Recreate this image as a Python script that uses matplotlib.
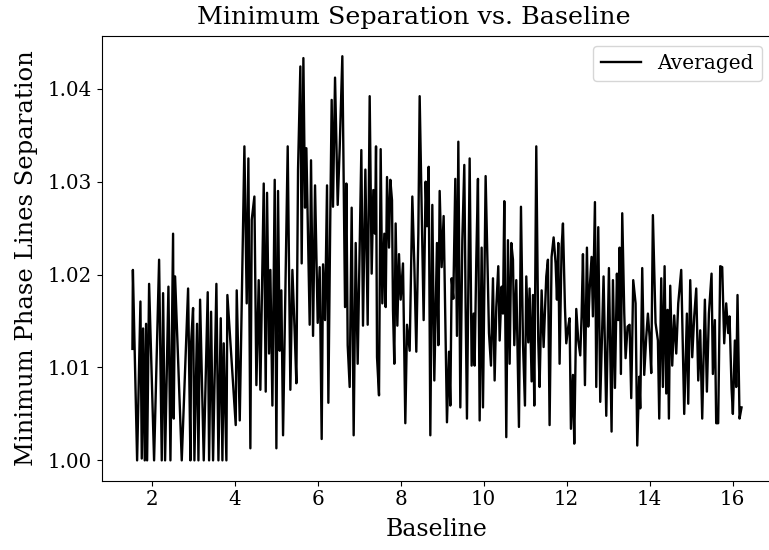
import matplotlib
matplotlib.use("Agg")
import matplotlib.pyplot as plt

plt.rcParams['font.family'] = 'DejaVu Serif'

# baseline values (x)
baseline = [
    1.534, 1.545, 1.647, 1.727, 1.759, 1.791, 1.831, 1.863, 1.888, 1.936,
    2.056, 2.177, 2.241, 2.273, 2.321, 2.402, 2.450, 2.514, 2.530, 2.562,
    2.723, 2.876, 2.932, 2.948, 2.996, 3.028, 3.092, 3.125, 3.165, 3.253,
    3.349, 3.382, 3.430, 3.478, 3.558, 3.607, 3.663, 3.703, 3.735, 3.799,
    3.823, 4.024, 4.048, 4.121, 4.233, 4.289, 4.329, 4.377,
    4.410, 4.474, 4.522, 4.578, 4.618, 4.699, 4.747, 4.779, 4.827, 4.859,
    4.908, 4.964, 5.004, 5.044, 5.084, 5.124, 5.165, 5.277, 5.341, 5.390,
    5.446, 5.486, 5.526, 5.582, 5.614, 5.655, 5.695, 5.727, 5.759, 5.807,
    5.839, 5.888, 5.936, 6.000, 6.048, 6.096, 6.129, 6.177, 6.225, 6.257,
    6.305, 6.337, 6.369, 6.418, 6.482, 6.530, 6.594, 6.659, 6.691, 6.723,
    6.771, 6.819, 6.867, 6.916, 6.964,
    7.052, 7.092, 7.149, 7.205, 7.253, 7.301, 7.341, 7.381, 7.406, 7.430,
    7.478, 7.518, 7.558, 7.606, 7.639, 7.671, 7.719, 7.751, 7.791, 7.815,
    7.847, 7.879, 7.920, 7.960, 8.000, 8.056, 8.112, 8.153, 8.217, 8.281,
    8.329, 8.377, 8.426, 8.458, 8.514, 8.554, 8.602, 8.634, 8.675, 8.715,
    8.763, 8.811, 8.875, 8.908, 8.940, 8.988, 9.036, 9.116, 9.165, 9.197,
    9.229, 9.269, 9.317, 9.357, 9.390, 9.438, 9.486, 9.534, 9.566, 9.598,
    9.663, 9.711, 9.759, 9.783, 9.823, 9.863, 9.904,
    9.952, 9.984, 10.048, 10.129, 10.177, 10.225, 10.265, 10.305, 10.353, 10.386,
    10.434, 10.466, 10.498, 10.546, 10.586, 10.627, 10.667, 10.707, 10.739, 10.787,
    10.851, 10.900, 10.948, 10.996, 11.028, 11.076, 11.108, 11.157, 11.189, 11.221,
    11.269, 11.317, 11.349, 11.398, 11.446, 11.510, 11.550, 11.590, 11.638, 11.687,
    11.735, 11.767, 11.799, 11.831, 11.879, 11.912, 11.960, 11.992, 12.040, 12.072,
    12.104, 12.153, 12.185, 12.233, 12.281, 12.329, 12.361, 12.394, 12.442, 12.490,
    12.522, 12.554, 12.602, 12.634, 12.683, 12.715, 12.763, 12.811, 12.891, 12.956,
    13.020,
    13.084, 13.117, 13.165, 13.213, 13.245, 13.277, 13.309, 13.341, 13.390, 13.422,
    13.470, 13.518, 13.558, 13.606, 13.663, 13.703, 13.751, 13.775, 13.823, 13.871,
    13.920, 13.960, 14.000, 14.040, 14.080, 14.144, 14.201, 14.233, 14.281, 14.321,
    14.362, 14.402, 14.434, 14.466, 14.498, 14.546, 14.594, 14.643, 14.691, 14.763,
    14.835, 14.900, 14.932, 14.980, 15.028, 15.076, 15.125, 15.173, 15.221, 15.269,
    15.333, 15.382, 15.430, 15.494, 15.526, 15.574, 15.606, 15.654, 15.703, 15.751,
    15.799, 15.847, 15.895, 15.928, 15.976, 16.008, 16.056, 16.088, 16.120, 16.169,
    16.217,
]

# averaged minimum separation (y)
min_sep = [
    1.0120, 1.0205, 1.0000, 1.0171, 1.0002, 1.0142, 1.0000, 1.0147, 1.0000, 1.0190,
    1.0000, 1.0216, 1.0000, 1.0180, 1.0000, 1.0187, 1.0000, 1.0244, 1.0045, 1.0198,
    1.0000, 1.0185, 1.0000, 1.0126, 1.0164, 1.0000, 1.0147, 1.0000, 1.0173, 1.0000,
    1.0181, 1.0000, 1.0160, 1.0000, 1.0190, 1.0000, 1.0153, 1.0000, 1.0126, 1.0000,
    1.0178, 1.0038, 1.0183, 1.0043, 1.0338, 1.0169, 1.0325, 1.0013,
    1.0259, 1.0284, 1.0081, 1.0194, 1.0076, 1.0298, 1.0074, 1.0288, 1.0115, 1.0205,
    1.0059, 1.0302, 1.0013, 1.0290, 1.0118, 1.0183, 1.0027, 1.0338, 1.0076, 1.0205,
    1.0137, 1.0083, 1.0313, 1.0424, 1.0212, 1.0433, 1.0272, 1.0336, 1.0259, 1.0146,
    1.0323, 1.0134, 1.0296, 1.0148, 1.0208, 1.0023, 1.0211, 1.0151, 1.0296, 1.0062,
    1.0268, 1.0388, 1.0273, 1.0412, 1.0275, 1.0336, 1.0435, 1.0165, 1.0298, 1.0124,
    1.0079, 1.0272, 1.0027, 1.0234, 1.0104,
    1.0334, 1.0145, 1.0313, 1.0146, 1.0392, 1.0201, 1.0291, 1.0244, 1.0338, 1.0111,
    1.0070, 1.0335, 1.0169, 1.0244, 1.0165, 1.0305, 1.0229, 1.0302, 1.0280, 1.0162,
    1.0104, 1.0255, 1.0145, 1.0222, 1.0173, 1.0212, 1.0040, 1.0146, 1.0118, 1.0284,
    1.0211, 1.0117, 1.0244, 1.0392, 1.0252, 1.0151, 1.0300, 1.0252, 1.0316, 1.0027,
    1.0275, 1.0086, 1.0234, 1.0124, 1.0290, 1.0208, 1.0263, 1.0041, 1.0117, 1.0059,
    1.0196, 1.0174, 1.0303, 1.0134, 1.0343, 1.0057, 1.0237, 1.0318, 1.0165, 1.0045,
    1.0325, 1.0102, 1.0158, 1.0102, 1.0216, 1.0303, 1.0043,
    1.0229, 1.0057, 1.0306, 1.0137, 1.0102, 1.0196, 1.0086, 1.0165, 1.0209, 1.0129,
    1.0187, 1.0158, 1.0279, 1.0025, 1.0237, 1.0104, 1.0234, 1.0216, 1.0124, 1.0194,
    1.0036, 1.0273, 1.0127, 1.0059, 1.0198, 1.0127, 1.0185, 1.0085, 1.0178, 1.0059,
    1.0338, 1.0129, 1.0079, 1.0183, 1.0122, 1.0198, 1.0216, 1.0038, 1.0219, 1.0240,
    1.0212, 1.0173, 1.0234, 1.0104, 1.0229, 1.0255, 1.0165, 1.0126, 1.0144, 1.0153,
    1.0034, 1.0092, 1.0018, 1.0163, 1.0129, 1.0113, 1.0155, 1.0222, 1.0081, 1.0229,
    1.0144, 1.0183, 1.0219, 1.0155, 1.0278, 1.0079, 1.0251, 1.0063, 1.0198, 1.0048,
    1.0207,
    1.0031, 1.0194, 1.0078, 1.0201, 1.0151, 1.0229, 1.0093, 1.0266, 1.0158, 1.0110,
    1.0144, 1.0146, 1.0067, 1.0194, 1.0169, 1.0016, 1.0090, 1.0056, 1.0207, 1.0092,
    1.0133, 1.0158, 1.0133, 1.0094, 1.0264, 1.0148, 1.0129, 1.0045, 1.0196, 1.0079,
    1.0209, 1.0072, 1.0162, 1.0045, 1.0188, 1.0102, 1.0156, 1.0115, 1.0169, 1.0205,
    1.0050, 1.0158, 1.0061, 1.0194, 1.0111, 1.0155, 1.0185, 1.0086, 1.0140, 1.0045,
    1.0173, 1.0074, 1.0158, 1.0201, 1.0093, 1.0151, 1.0040, 1.0040, 1.0209, 1.0208,
    1.0126, 1.0169, 1.0137, 1.0155, 1.0078, 1.0050, 1.0129, 1.0079, 1.0178, 1.0045,
    1.0057,
]

fig = plt.figure(figsize=(7.69, 5.5), dpi=100)
# the reference is cropped on the right: axes run just past the image edge
ax = fig.add_axes([0.1326, 0.1262, 0.8713, 0.8083])
ax.spines['right'].set_visible(False)

ax.plot(baseline, min_sep, color='black', lw=1.7, label='Averaged')

# title is centred on the (uncropped) figure, left of the axes centre
ax.set_title('Minimum Separation vs. Baseline', fontsize=18.3,
             x=0.466, pad=9)
ax.set_xlabel('Baseline', fontsize=17, labelpad=6)
ax.set_ylabel('Minimum Phase Lines Separation', fontsize=17.5, labelpad=7)
ax.set_xticks([2, 4, 6, 8, 10, 12, 14, 16])
ax.set_yticks([1.00, 1.01, 1.02, 1.03, 1.04])
ax.tick_params(labelsize=14.3)
ax.legend(loc='upper right', fontsize=14.5)

fig.savefig('out.png', dpi=100)
